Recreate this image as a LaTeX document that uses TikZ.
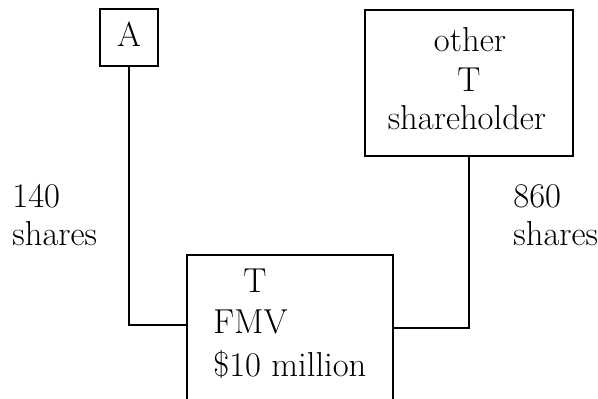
\documentclass[tikz,border=0pt]{standalone}
\begin{document}
\begin{tikzpicture}[x=0.5pt,y=-0.5pt,
  box/.style={draw,line width=0.9pt,inner sep=0pt},
  lbl/.style={anchor=base,inner sep=0pt,font=\fontsize{17.3}{20}\selectfont},
  lblw/.style={anchor=base west,inner sep=0pt,font=\fontsize{17.3}{20}\selectfont},
  conn/.style={line width=0.9pt}]
\clip (0,0) rectangle (598,399);
% boxes
\node[box,minimum width=29pt,minimum height=28.5pt] (a) at (129,37.5) {};
\node[box,minimum width=104pt,minimum height=73pt] (o) at (469,83) {};
\node[box,minimum width=103pt,minimum height=87.5pt] (t) at (290,342.5) {};
% texts
\node[lbl] (ta) at (129,47) {A};
\node[lbl] (o1) at (470,52) {other};
\node[lbl] (o2) at (469,92) {T};
\node[lbl] (o3) at (467,130) {shareholder};
\node[lbl] (t1) at (255,293) {T};
\node[lblw] (t2) at (213,334) {FMV};
\node[lblw] (t3) at (213,377) {\$10 million};
\node[lblw] (l1) at (12,208) {140};
\node[lblw] (l2) at (12,246) {shares};
\node[lblw] (r1) at (513,208) {860};
\node[lblw] (r2) at (513,246) {shares};
% connectors
\coordinate (jl) at (187,325);
\coordinate (jr) at (393,328);
\draw[conn] (a.south) |- (jl);
\draw[conn] (o.south) |- (jr);
\end{tikzpicture}
\end{document}
